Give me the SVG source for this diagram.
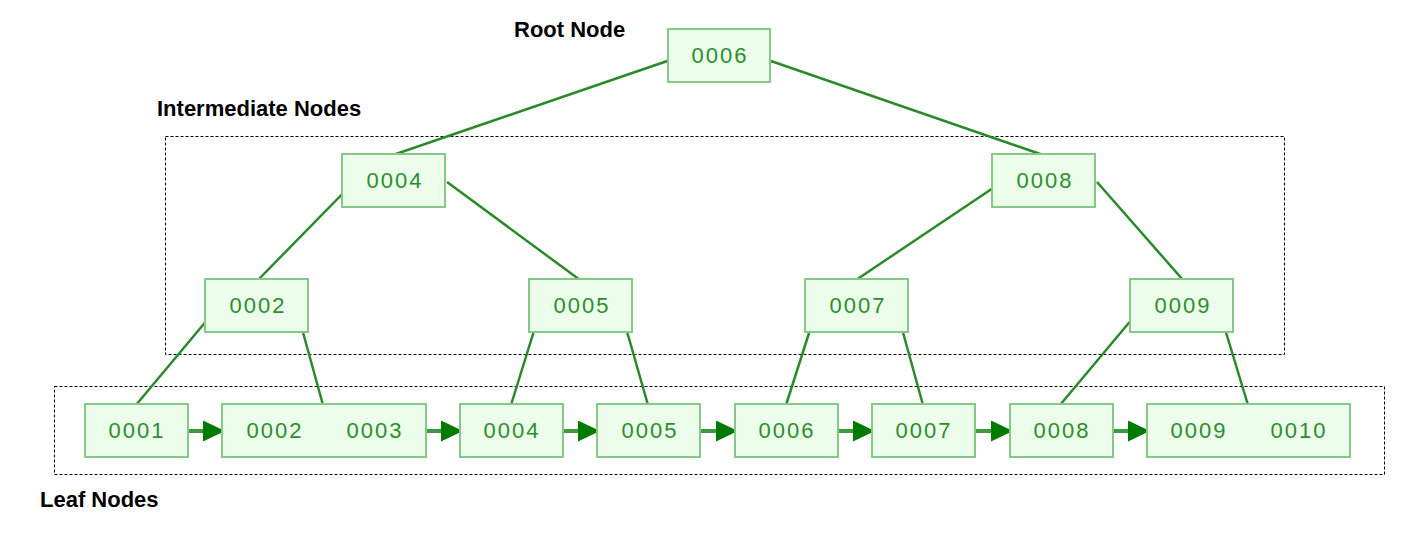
<svg xmlns="http://www.w3.org/2000/svg" width="1419" height="533" viewBox="0 0 1419 533">
  <style>
    .box rect { fill: #ecfdec; stroke: #86c986; stroke-width: 2; }
    .box text { font-family: "Liberation Sans", Arial, sans-serif; font-size: 22px; letter-spacing: 2px; fill: #2a8f2a; text-anchor: middle; }
    .label { font-family: "Liberation Sans", Arial, sans-serif; font-size: 22px; font-weight: bold; fill: #000; }
    .edge { stroke: #2a8a2a; stroke-width: 2.5; fill: none; }
    .link { stroke: #3d9a3d; stroke-width: 4; fill: none; marker-end: url(#head); }
    .group { fill: none; stroke: #000; stroke-width: 1; stroke-dasharray: 3 2; }
  </style>
  <defs>
    <marker id="head" viewBox="0 0 22 21" refX="22" refY="10.5" markerWidth="22" markerHeight="21" markerUnits="userSpaceOnUse" orient="auto">
      <path d="M0,0 L22,10.5 L0,21 z" fill="#007a00"/>
    </marker>
  </defs>

  <rect width="1419" height="533" fill="#fff"/>

  <!-- level outlines -->
  <rect class="group" x="165.5" y="136.5" width="1119" height="218"/>
  <rect class="group" x="54.5" y="386.5" width="1330" height="88"/>

  <!-- captions -->
  <text class="label" x="514" y="37">Root Node</text>
  <text class="label" x="157" y="116">Intermediate Nodes</text>
  <text class="label" x="40" y="507">Leaf Nodes</text>

  <g id="connectors">
    <line class="edge" x1="676" y1="58" x2="393" y2="155"/>
    <line class="edge" x1="768" y1="60" x2="1043" y2="155"/>
    <line class="edge" x1="356" y1="180" x2="258" y2="280"/>
    <line class="edge" x1="447" y1="182" x2="580" y2="280"/>
    <line class="edge" x1="1005" y1="180" x2="856" y2="280"/>
    <line class="edge" x1="1097" y1="182" x2="1183" y2="280"/>
    <line class="edge" x1="218" y1="307" x2="136" y2="405"/>
    <line class="edge" x1="296" y1="307" x2="323" y2="405"/>
    <line class="edge" x1="542" y1="305" x2="511" y2="405"/>
    <line class="edge" x1="620" y1="307" x2="648" y2="405"/>
    <line class="edge" x1="818" y1="305" x2="786" y2="405"/>
    <line class="edge" x1="896" y1="307" x2="923" y2="405"/>
    <line class="edge" x1="1143" y1="306" x2="1060" y2="405"/>
    <line class="edge" x1="1218" y1="306" x2="1248" y2="405"/>
    <!-- sibling links between leaves -->
    <line class="link" x1="174" y1="431" x2="225" y2="431"/>
    <line class="link" x1="412" y1="431" x2="463" y2="431"/>
    <line class="link" x1="549" y1="431" x2="600" y2="431"/>
    <line class="link" x1="687" y1="431" x2="738" y2="431"/>
    <line class="link" x1="824" y1="431" x2="875" y2="431"/>
    <line class="link" x1="962" y1="431" x2="1013" y2="431"/>
    <line class="link" x1="1099" y1="431" x2="1150" y2="431"/>
  </g>

  <g id="root" class="box"><rect x="668" y="29" width="102" height="53"/><text x="720" y="63">0006</text></g>

  <g id="n0004" class="box"><rect x="342" y="154" width="103" height="53"/><text x="395" y="188">0004</text></g>
  <g id="n0008" class="box"><rect x="992" y="154" width="103" height="53"/><text x="1045" y="188">0008</text></g>

  <g id="n0002" class="box"><rect x="205" y="279" width="103" height="53"/><text x="258" y="313">0002</text></g>
  <g id="n0005" class="box"><rect x="529" y="279" width="103" height="53"/><text x="582" y="313">0005</text></g>
  <g id="n0007" class="box"><rect x="805" y="279" width="103" height="53"/><text x="858" y="313">0007</text></g>
  <g id="n0009" class="box"><rect x="1130" y="279" width="103" height="53"/><text x="1183" y="313">0009</text></g>

  <g id="leaf0001" class="box"><rect x="85" y="404" width="103" height="53"/><text x="137" y="438">0001</text></g>
  <g id="leaf0002" class="box"><rect x="222" y="404" width="204" height="53"/><text x="275" y="438">0002</text><text x="375" y="438">0003</text></g>
  <g id="leaf0004" class="box"><rect x="460" y="404" width="103" height="53"/><text x="512" y="438">0004</text></g>
  <g id="leaf0005" class="box"><rect x="597" y="404" width="103" height="53"/><text x="650" y="438">0005</text></g>
  <g id="leaf0006" class="box"><rect x="735" y="404" width="103" height="53"/><text x="787" y="438">0006</text></g>
  <g id="leaf0007" class="box"><rect x="872" y="404" width="103" height="53"/><text x="924" y="438">0007</text></g>
  <g id="leaf0008" class="box"><rect x="1010" y="404" width="103" height="53"/><text x="1062" y="438">0008</text></g>
  <g id="leaf0009" class="box"><rect x="1147" y="404" width="203" height="53"/><text x="1199" y="438">0009</text><text x="1299" y="438">0010</text></g>
</svg>
